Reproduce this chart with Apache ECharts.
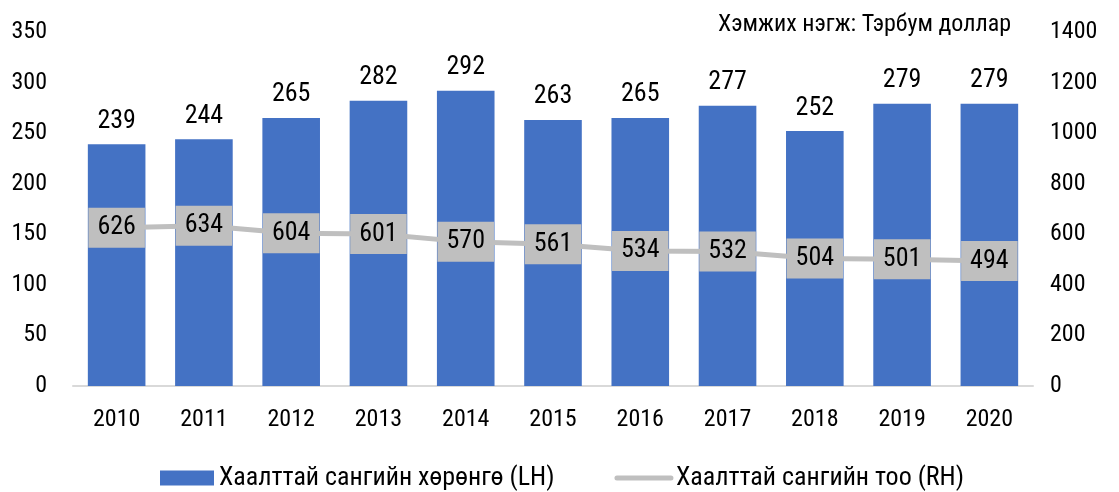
<!DOCTYPE html>
<html><head><meta charset="utf-8">
<script src="https://cdn.jsdelivr.net/npm/echarts@6/dist/echarts.min.js"></script>
<style>html,body{margin:0;padding:0;background:#fff}#c{width:1119px;height:492px}</style>
</head><body><div id="c"></div>
<script>
const categories = ['2010','2011','2012','2013','2014','2015','2016','2017','2018','2019','2020'];
const assets = [239,244,265,282,292,263,265,277,252,279,279];
const fundCount = [626,634,604,601,570,561,534,532,504,501,494];
const unitText = 'Хэмжих нэгж: Тэрбум доллар';
const barName = 'Хаалттай сангийн хөрөнгө (LH)';
const lineName = 'Хаалттай сангийн тоо (RH)';
const FONT = '"Roboto Condensed","Liberation Sans Narrow",Roboto,sans-serif';
const chart = echarts.init(document.getElementById('c'));
chart.setOption({
  backgroundColor:'#fff',
  textStyle:{fontFamily:FONT},
  title:{text:unitText,right:103,top:8,textStyle:{fontFamily:FONT,fontSize:24,fontWeight:'normal',color:'#000'}},
  grid:{left:73,right:86,top:32,bottom:106},
  legend:{top:460,left:155,itemGap:60,itemWidth:54,itemHeight:15,textStyle:{fontFamily:FONT,fontSize:26,color:'#000'},
    data:[{name:barName,icon:'rect'},
          {name:lineName,itemStyle:{opacity:0},lineStyle:{width:5,color:'#BFBFBF',cap:'round'}}]},
  xAxis:{type:'category',data:categories,axisTick:{show:false},
    axisLine:{lineStyle:{color:'#D9D9D9',width:2}},
    axisLabel:{fontFamily:FONT,fontSize:24,color:'#000',margin:22}},
  yAxis:[
    {type:'value',min:0,max:350,interval:50,splitLine:{show:false},axisLine:{show:false},axisTick:{show:false},
     axisLabel:{fontFamily:FONT,fontSize:24,color:'#000',margin:26}},
    {type:'value',min:0,max:1400,interval:200,splitLine:{show:false},axisLine:{show:false},axisTick:{show:false},
     axisLabel:{fontFamily:FONT,fontSize:24,color:'#000',margin:17,formatter:v=>String(v)}}
  ],
  series:[
    {name:barName,type:'bar',data:assets,barCategoryGap:'34%',itemStyle:{color:'#4472C4'},
     label:{show:true,position:'top',distance:10,fontFamily:FONT,fontSize:26,color:'#000'}},
    {name:lineName,type:'line',yAxisIndex:1,data:fundCount,symbol:'none',z:3,lineStyle:{color:'#BFBFBF',width:5,cap:'round'},itemStyle:{color:'#BFBFBF'}},
    {name:'labels',type:'scatter',yAxisIndex:1,data:fundCount,symbolSize:1,z:10,zlevel:1,itemStyle:{color:'rgba(0,0,0,0)',opacity:1},silent:true,
     label:{show:true,position:'inside',opacity:1,fontFamily:FONT,fontSize:26,color:'#000',backgroundColor:'#BFBFBF',padding:[7,9,7,9]}}
  ]
});
</script></body></html>
